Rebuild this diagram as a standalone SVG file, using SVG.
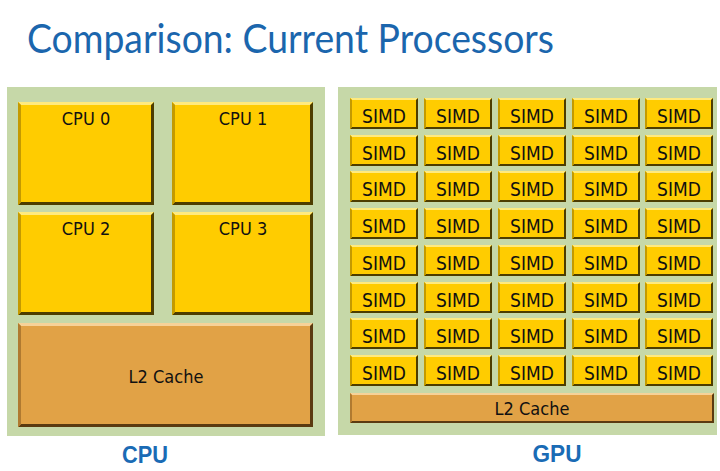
<svg xmlns="http://www.w3.org/2000/svg" xmlns:xlink="http://www.w3.org/1999/xlink" width="720" height="471" viewBox="0 0 720 471">
<style>
.panel{fill:#c6d8a8}
.y{fill:#ffcc00}.yl{fill:#ffea7e}.yd{fill:#4d3d00}.yL{fill:#c49a00}
.o{fill:#e1a246}.ol{fill:#f6d298}.od{fill:#5b3a10}.oL{fill:#b07a30}
.lbl{font-family:"DejaVu Sans Condensed","DejaVu Sans",sans-serif;font-size:18px;fill:#111;text-anchor:middle}
.s{font-family:"DejaVu Sans Condensed","DejaVu Sans",sans-serif;font-size:19px;fill:#111;text-anchor:middle}
.cap{font-family:"Liberation Sans",Arial,sans-serif;font-weight:bold;font-size:24px;fill:#1a6bb5;text-anchor:middle}
.title{font-family:Lato,"Liberation Sans",sans-serif;font-size:40px;fill:#1b66ad}
</style>
<defs>
<symbol id="simd" viewBox="0 0 68 31" width="68" height="31">
<rect x="0" y="0" width="68" height="31" class="y"/>
<path d="M0,0 H68 L66,2 H2 Z" class="yl"/>
<path d="M68,0 V31 H0 L2,29 H66 V2 Z" class="yd"/>
<path d="M0,0 L2,2 V29 L0,31 Z" class="yL"/>
</symbol>
</defs>
<rect width="720" height="471" fill="#ffffff"/>
<text class="title" x="27" y="53" textLength="527" lengthAdjust="spacingAndGlyphs">Comparison: Current Processors</text>

<g id="cpu-panel">
<rect class="panel" x="7" y="87" width="318" height="349"/>
<g id="cpu0">
<rect class="y" x="18" y="102" width="136" height="103"/>
<path class="yl" d="M18,102 H154 L151,105 H21 Z"/>
<path class="yd" d="M154,102 V205 H18 L21,202 H151 V105 Z"/>
<path class="yL" d="M18,102 L21,105 V202 L18,205 Z"/>
<text class="lbl" x="86" y="125">CPU 0</text>
</g>
<g id="cpu1">
<rect class="y" x="172" y="102" width="141" height="103"/>
<path class="yl" d="M172,102 H313 L310,105 H175 Z"/>
<path class="yd" d="M313,102 V205 H172 L175,202 H310 V105 Z"/>
<path class="yL" d="M172,102 L175,105 V202 L172,205 Z"/>
<text class="lbl" x="243" y="125">CPU 1</text>
</g>
<g id="cpu2">
<rect class="y" x="18" y="212" width="136" height="103"/>
<path class="yl" d="M18,212 H154 L151,215 H21 Z"/>
<path class="yd" d="M154,212 V315 H18 L21,312 H151 V215 Z"/>
<path class="yL" d="M18,212 L21,215 V312 L18,315 Z"/>
<text class="lbl" x="86" y="235">CPU 2</text>
</g>
<g id="cpu3">
<rect class="y" x="172" y="212" width="141" height="103"/>
<path class="yl" d="M172,212 H313 L310,215 H175 Z"/>
<path class="yd" d="M313,212 V315 H172 L175,312 H310 V215 Z"/>
<path class="yL" d="M172,212 L175,215 V312 L172,315 Z"/>
<text class="lbl" x="243" y="235">CPU 3</text>
</g>
<g id="cpu-l2">
<rect class="o" x="18" y="323" width="295" height="104"/>
<path class="ol" d="M18,323 H313 L310,326 H21 Z"/>
<path class="od" d="M313,323 V427 H18 L21,424 H310 V326 Z"/>
<path class="oL" d="M18,323 L21,326 V424 L18,427 Z"/>
<text class="lbl" x="166" y="383">L2 Cache</text>
</g>
</g>
<text id="cpu-caption" class="cap" x="145" y="463" textLength="46" lengthAdjust="spacingAndGlyphs">CPU</text>

<g id="gpu-panel">
<rect class="panel" x="338" y="87" width="379" height="348"/>
<g id="simd-r0">
<use href="#simd" x="350" y="98"/><text class="s" x="384" y="122.5">SIMD</text>
<use href="#simd" x="424" y="98"/><text class="s" x="458" y="122.5">SIMD</text>
<use href="#simd" x="498" y="98"/><text class="s" x="532" y="122.5">SIMD</text>
<use href="#simd" x="572" y="98"/><text class="s" x="606" y="122.5">SIMD</text>
<use href="#simd" x="645" y="98"/><text class="s" x="679" y="122.5">SIMD</text>
</g>
<g id="simd-r1">
<use href="#simd" x="350" y="135"/><text class="s" x="384" y="159.5">SIMD</text>
<use href="#simd" x="424" y="135"/><text class="s" x="458" y="159.5">SIMD</text>
<use href="#simd" x="498" y="135"/><text class="s" x="532" y="159.5">SIMD</text>
<use href="#simd" x="572" y="135"/><text class="s" x="606" y="159.5">SIMD</text>
<use href="#simd" x="645" y="135"/><text class="s" x="679" y="159.5">SIMD</text>
</g>
<g id="simd-r2">
<use href="#simd" x="350" y="171"/><text class="s" x="384" y="195.5">SIMD</text>
<use href="#simd" x="424" y="171"/><text class="s" x="458" y="195.5">SIMD</text>
<use href="#simd" x="498" y="171"/><text class="s" x="532" y="195.5">SIMD</text>
<use href="#simd" x="572" y="171"/><text class="s" x="606" y="195.5">SIMD</text>
<use href="#simd" x="645" y="171"/><text class="s" x="679" y="195.5">SIMD</text>
</g>
<g id="simd-r3">
<use href="#simd" x="350" y="208"/><text class="s" x="384" y="232.5">SIMD</text>
<use href="#simd" x="424" y="208"/><text class="s" x="458" y="232.5">SIMD</text>
<use href="#simd" x="498" y="208"/><text class="s" x="532" y="232.5">SIMD</text>
<use href="#simd" x="572" y="208"/><text class="s" x="606" y="232.5">SIMD</text>
<use href="#simd" x="645" y="208"/><text class="s" x="679" y="232.5">SIMD</text>
</g>
<g id="simd-r4">
<use href="#simd" x="350" y="245"/><text class="s" x="384" y="269.5">SIMD</text>
<use href="#simd" x="424" y="245"/><text class="s" x="458" y="269.5">SIMD</text>
<use href="#simd" x="498" y="245"/><text class="s" x="532" y="269.5">SIMD</text>
<use href="#simd" x="572" y="245"/><text class="s" x="606" y="269.5">SIMD</text>
<use href="#simd" x="645" y="245"/><text class="s" x="679" y="269.5">SIMD</text>
</g>
<g id="simd-r5">
<use href="#simd" x="350" y="282"/><text class="s" x="384" y="306.5">SIMD</text>
<use href="#simd" x="424" y="282"/><text class="s" x="458" y="306.5">SIMD</text>
<use href="#simd" x="498" y="282"/><text class="s" x="532" y="306.5">SIMD</text>
<use href="#simd" x="572" y="282"/><text class="s" x="606" y="306.5">SIMD</text>
<use href="#simd" x="645" y="282"/><text class="s" x="679" y="306.5">SIMD</text>
</g>
<g id="simd-r6">
<use href="#simd" x="350" y="318"/><text class="s" x="384" y="342.5">SIMD</text>
<use href="#simd" x="424" y="318"/><text class="s" x="458" y="342.5">SIMD</text>
<use href="#simd" x="498" y="318"/><text class="s" x="532" y="342.5">SIMD</text>
<use href="#simd" x="572" y="318"/><text class="s" x="606" y="342.5">SIMD</text>
<use href="#simd" x="645" y="318"/><text class="s" x="679" y="342.5">SIMD</text>
</g>
<g id="simd-r7">
<use href="#simd" x="350" y="355"/><text class="s" x="384" y="379.5">SIMD</text>
<use href="#simd" x="424" y="355"/><text class="s" x="458" y="379.5">SIMD</text>
<use href="#simd" x="498" y="355"/><text class="s" x="532" y="379.5">SIMD</text>
<use href="#simd" x="572" y="355"/><text class="s" x="606" y="379.5">SIMD</text>
<use href="#simd" x="645" y="355"/><text class="s" x="679" y="379.5">SIMD</text>
</g>
<g id="gpu-l2">
<rect class="o" x="350" y="393" width="364" height="30"/>
<path class="ol" d="M350,393 H714 L712,395 H352 Z"/>
<path class="od" d="M714,393 V423 H350 L352,421 H712 V395 Z"/>
<path class="oL" d="M350,393 L352,395 V421 L350,423 Z"/>
<text class="lbl" x="532" y="415">L2 Cache</text>
</g>
</g>
<text id="gpu-caption" class="cap" x="557" y="462" textLength="49" lengthAdjust="spacingAndGlyphs">GPU</text>
</svg>
